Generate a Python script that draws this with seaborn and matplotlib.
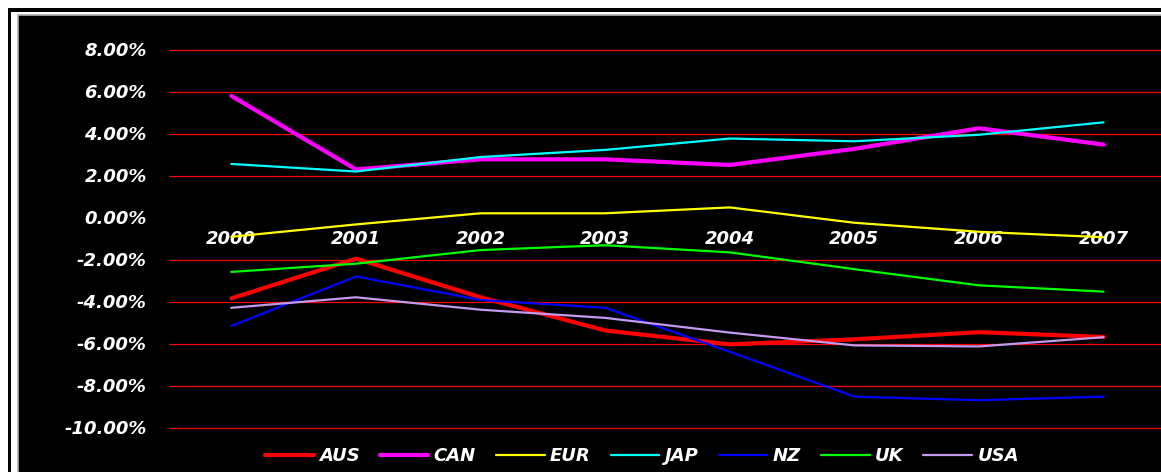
import matplotlib
matplotlib.use("Agg")
import matplotlib.pyplot as plt
from matplotlib.patches import Rectangle
from matplotlib.ticker import FuncFormatter
import pandas as pd
import seaborn as sns

# Annual values (%) per currency area
years = [2000, 2001, 2002, 2003, 2004, 2005, 2006, 2007]
aus = [-3.85, -1.96, -3.80, -5.38, -6.04, -5.80, -5.46, -5.69]
can = [5.79, 2.29, 2.77, 2.77, 2.50, 3.27, 4.25, 3.47]
eur = [-0.92, -0.33, 0.20, 0.20, 0.48, -0.25, -0.68, -0.94]
jap = [2.55, 2.19, 2.88, 3.22, 3.76, 3.63, 3.94, 4.53]
nz = [-5.16, -2.81, -3.93, -4.30, -6.40, -8.53, -8.70, -8.53]
uk = [-2.59, -2.20, -1.55, -1.32, -1.66, -2.46, -3.23, -3.53]
usa = [-4.30, -3.80, -4.39, -4.78, -5.48, -6.09, -6.14, -5.70]

series_names = ["AUS", "CAN", "EUR", "JAP", "NZ", "UK", "USA"]
series_values = [aus, can, eur, jap, nz, uk, usa]
y_ticks = [-10, -8, -6, -4, -2, 0, 2, 4, 6, 8]

colors = {"AUS": "#FF0000", "CAN": "#FF00FF", "EUR": "#FFFF00", "JAP": "#00FFFF",
          "NZ": "#0000FF", "UK": "#00FF00", "USA": "#C49AEE"}
widths = {"AUS": 3.0, "CAN": 3.0, "EUR": 1.6, "JAP": 1.6,
          "NZ": 1.6, "UK": 1.6, "USA": 1.6}

df = pd.DataFrame(
    [(n, yr, v) for n, vals in zip(series_names, series_values) for yr, v in zip(years, vals)],
    columns=["series", "year", "value"],
)

sns.set_theme(style="white")
plt.rcParams["font.family"] = ["DejaVu Sans"]

W, H = 1161, 472
fig = plt.figure(figsize=(W / 100, H / 100), dpi=100)
fig.patch.set_facecolor("white")

# Outer black frame, white gap, then the black chart area
fig.add_artist(Rectangle((8 / W, -0.1), 1.2, 1 - 8 / H + 0.1, transform=fig.transFigure,
                         facecolor="black", edgecolor="none", zorder=-30))
fig.add_artist(Rectangle((11 / W, -0.1), 1.2, 1 - 12 / H + 0.1, transform=fig.transFigure,
                         facecolor="white", edgecolor="none", zorder=-29))
fig.add_artist(Rectangle((18 / W, -0.1), 1.2, 1 - 15 / H + 0.1, transform=fig.transFigure,
                         facecolor="black", edgecolor="#B0B0B0", linewidth=1.2, zorder=-28))

# Plot area placed so every 2% step is a whole number of pixels
top_px, step_px = 49.5, 42
bottom_px = top_px + 9 * step_px
ax = fig.add_axes([169 / W, 1 - bottom_px / H, (W - 169) / W, (bottom_px - top_px) / H])
ax.set_facecolor("black")
ax.patch.set_alpha(0)

for name in series_names:
    sub = df[df["series"] == name]
    sns.lineplot(data=sub, x="year", y="value", ax=ax, color=colors[name],
                 linewidth=widths[name], label=name, sort=False, zorder=3)

ax.set_ylim(-10, 8)
ax.set_xlim(years[0] - 0.5, years[0] - 0.5 + 992 / 124.6)
ax.set_yticks(y_ticks)
ax.yaxis.set_major_formatter(FuncFormatter(lambda v, p: f"{v:.2f}%"))
ax.set_xticks(years)
ax.set_xticklabels([str(y) for y in years])
ax.set_xlabel("")
ax.set_ylabel("")

# Red horizontal gridlines (none at the category axis)
for t in y_ticks:
    if t != 0:
        ax.axhline(t, color="#FF0000", linewidth=0.9, zorder=1, snap=True,
                   clip_on=False)

for s in ["top", "right", "left"]:
    ax.spines[s].set_visible(False)
ax.spines["bottom"].set_position(("data", 0))
ax.spines["bottom"].set_color("black")
ax.spines["bottom"].set_zorder(2)

ax.tick_params(axis="y", length=0, pad=16, labelsize=13, labelcolor="white")
ax.tick_params(axis="x", length=0, pad=9, labelsize=13, labelcolor="white")
for lab in ax.get_yticklabels() + ax.get_xticklabels():
    lab.set_fontweight("bold")
    lab.set_fontstyle("italic")

ax.get_legend().remove()
handles, labels = ax.get_legend_handles_labels()
leg = fig.legend(handles, labels, loc="center", bbox_to_anchor=(642 / W, 1 - 456 / H),
                 ncol=7, frameon=False, handlelength=2.7, handletextpad=0.3,
                 columnspacing=1.1,
                 prop=dict(size=13, weight="bold", style="italic"))
for txt in leg.get_texts():
    txt.set_color("white")

fig.savefig("out.png", dpi=100, facecolor=fig.get_facecolor())
